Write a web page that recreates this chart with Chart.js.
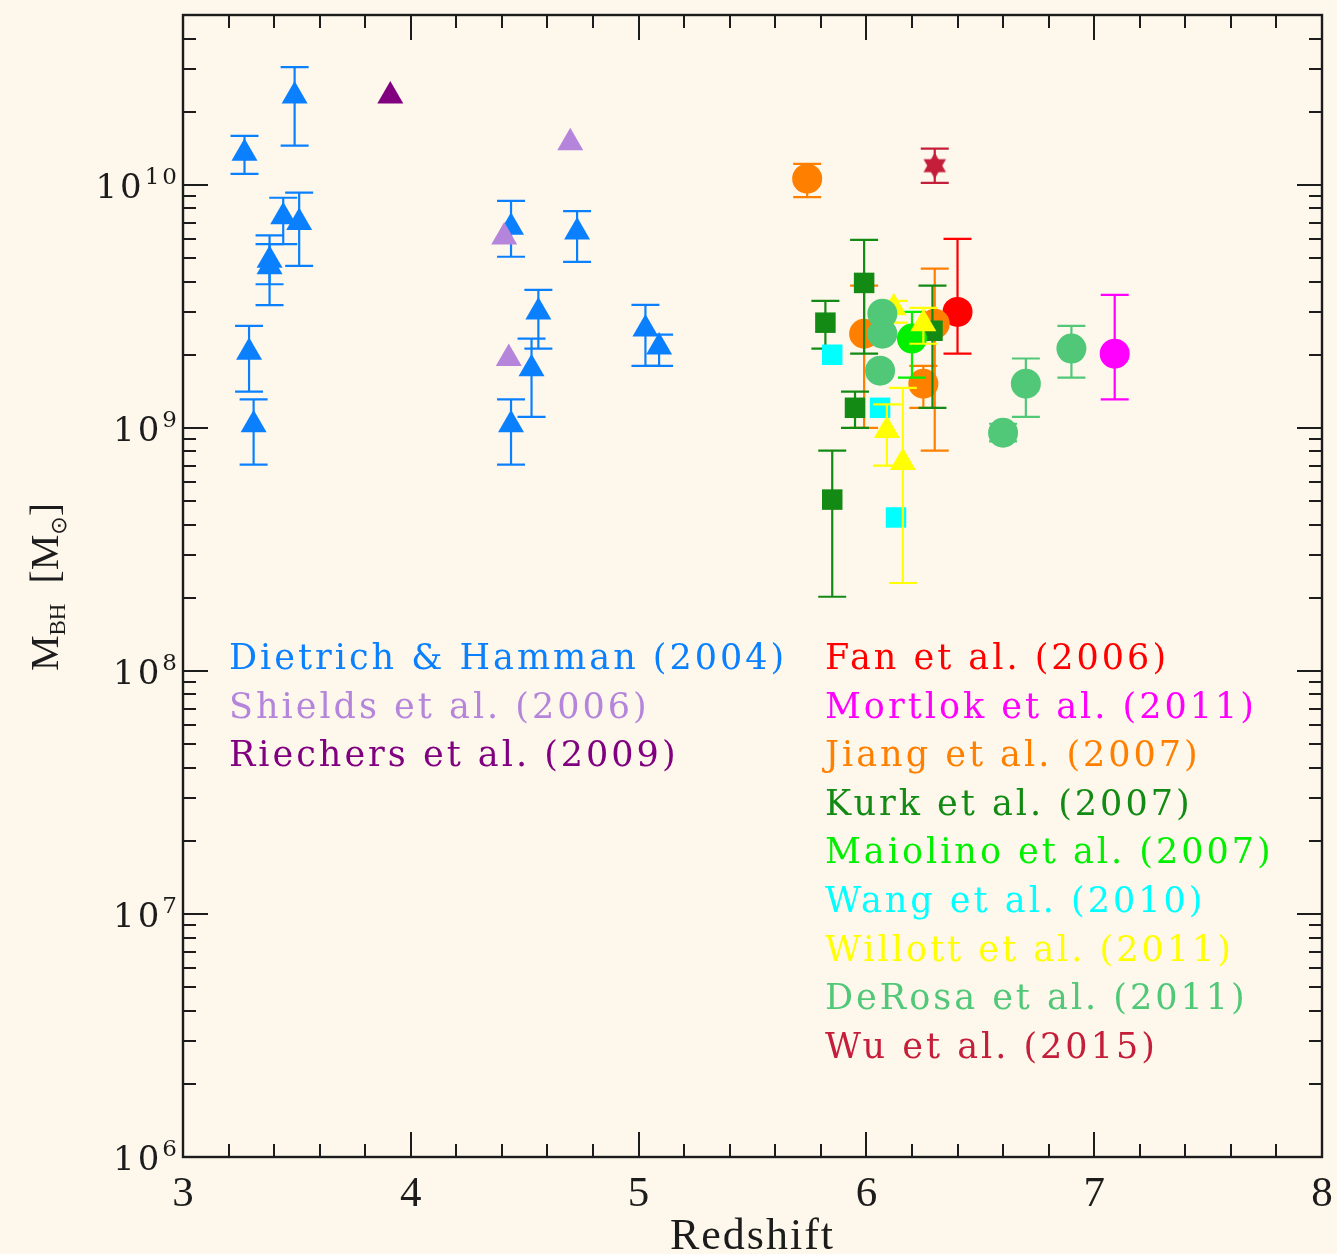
<!DOCTYPE html>
<html>
<head>
<meta charset="utf-8">
<script src="https://cdn.jsdelivr.net/npm/chart.js@4.4.0/dist/chart.umd.min.js"></script>
<style>
  html, body { margin: 0; padding: 0; background: #fef8ec; overflow: hidden; }
  canvas { display: block; }
</style>
</head>
<body>
<canvas id="graficoMassa" width="1337" height="1254"></canvas>
<script>
// Dietrich & Hamman (2004)
const dietrichZ  = [3.27, 3.49, 3.44, 3.51, 3.38, 3.38, 3.29, 3.31, 4.44, 4.73, 4.56, 4.53, 4.44, 5.03, 5.09];
const dietrichM  = [1.35e10, 2.32e10, 7.4e9, 7.0e9, 4.9e9, 4.6e9, 2.05e9, 1.03e9, 6.7e9, 6.4e9, 3.0e9, 1.75e9, 1.03e9, 2.55e9, 2.15e9];
const dietrichHi = [1.59e10, 3.05e10, 8.85e9, 9.3e9, 6.2e9, 5.7e9, 2.63e9, 1.31e9, 8.6e9, 7.8e9, 3.7e9, 2.33e9, 1.31e9, 3.21e9, 2.42e9];
const dietrichLo = [1.11e10, 1.45e10, 5.7e9, 4.64e9, 3.9e9, 3.2e9, 1.41e9, 7.06e8, 5.06e9, 4.82e9, 2.12e9, 1.11e9, 7.06e8, 1.8e9, 1.8e9];

// Shields et al. (2006)
const shieldsZ = [4.70, 4.41, 4.43];
const shieldsM = [1.49e10, 6.1e9, 1.93e9];

// Riechers et al. (2009)
const riechersZ = [3.91];
const riechersM = [2.32e10];

// Fan et al. (2006)
const fanZ  = [6.40];
const fanM  = [3.0e9];
const fanHi = [6.0e9];
const fanLo = [2.02e9];

// Mortlock et al. (2011)
const mortlockZ  = [7.09];
const mortlockM  = [2.02e9];
const mortlockHi = [3.53e9];
const mortlockLo = [1.31e9];

// Jiang et al. (2007)
const jiangZ  = [5.74, 5.99, 6.30, 6.25];
const jiangM  = [1.06e10, 2.44e9, 2.68e9, 1.52e9];
const jiangHi = [1.22e10, 3.85e9, 4.52e9, 1.8e9];
const jiangLo = [8.9e9, 1.0e9, 8.06e8, 1.21e9];

// Kurk et al. (2007)
const kurkZ  = [5.82, 5.99, 5.95, 5.85, 6.29];
const kurkM  = [2.71e9, 3.95e9, 1.21e9, 5.07e8, 2.51e9];
const kurkHi = [3.33e9, 5.94e9, 1.41e9, 8.06e8, 3.85e9];
const kurkLo = [2.12e9, 2.02e9, 1.0e9, 2.02e8, 1.21e9];

// Maiolino et al. (2007)
const maiolinoZ  = [6.20];
const maiolinoM  = [2.33e9];
const maiolinoHi = [3.0e9];
const maiolinoLo = [1.61e9];

// Wang et al. (2010)
const wangZ = [5.85, 6.06, 6.13];
const wangM = [2.0e9, 1.21e9, 4.28e8];

// Willott et al. (2011)
const willottZ  = [6.12, 6.25, 6.09, 6.16];
const willottM  = [3.12e9, 2.68e9, 9.75e8, 7.2e8];
const willottHi = [3.33e9, 3.12e9, 1.25e9, 1.46e9];
const willottLo = [2.71e9, 2.22e9, 7.0e8, 2.3e8];

// De Rosa et al. (2011)
const derosaZ  = [6.07, 6.07, 6.06, 6.60, 6.70, 6.90];
const derosaM  = [2.95e9, 2.44e9, 1.72e9, 9.55e8, 1.52e9, 2.12e9];
const derosaHi = [null, null, null, 1.04e9, 1.93e9, 2.63e9];
const derosaLo = [null, null, null, 8.8e8, 1.11e9, 1.61e9];

// Wu et al. (2015)
const wuZ  = [6.30];
const wuM  = [1.2e10];
const wuHi = [1.41e10];
const wuLo = [1.02e10];

// axes
const xTicks = [3, 4, 5, 6, 7, 8];
const yDecades = [6, 7, 8, 9, 10];
const xRange = [3, 8];
const yRange = [1e6, 5e10];

const BG = '#fef8ec';
const INK = '#1c1c1c';

// filled six-pointed star for the Wu point
function sixPointStar(color, r) {
  const c = document.createElement('canvas');
  const s = Math.ceil(r * 2 + 2);
  c.width = s; c.height = s;
  const g = c.getContext('2d');
  g.fillStyle = color;
  const cx = s / 2, cy = s / 2;
  [-Math.PI / 2, Math.PI / 2].forEach(a0 => {
    g.beginPath();
    for (let k = 0; k < 3; k++) {
      const a = a0 + k * 2 * Math.PI / 3;
      g.lineTo(cx + r * Math.cos(a), cy + r * Math.sin(a));
    }
    g.closePath();
    g.fill();
  });
  return c;
}

function makeSet(label, color, style, z, m, hi, lo, radius) {
  return {
    label: label,
    data: z.map((v, i) => ({ x: v, y: m[i] })),
    errHi: hi || null,
    errLo: lo || null,
    backgroundColor: color,
    borderColor: color,
    pointStyle: style,
    pointRadius: radius,
    pointBorderWidth: 0,
    pointHoverRadius: radius
  };
}

const datasets = [
  makeSet('Dietrich & Hamman (2004)', '#0a80ff', 'triangle', dietrichZ, dietrichM, dietrichHi, dietrichLo, 15),
  makeSet('Shields et al. (2006)', '#b585db', 'triangle', shieldsZ, shieldsM, null, null, 15),
  makeSet('Riechers et al. (2009)', '#800080', 'triangle', riechersZ, riechersM, null, null, 15),
  makeSet('Fan et al. (2006)', '#ff0000', 'circle', fanZ, fanM, fanHi, fanLo, 15),
  makeSet('Mortlok et al. (2011)', '#ff00ff', 'circle', mortlockZ, mortlockM, mortlockHi, mortlockLo, 15),
  makeSet('Jiang et al. (2007)', '#ff8000', 'circle', jiangZ, jiangM, jiangHi, jiangLo, 15),
  makeSet('Kurk et al. (2007)', '#138a13', 'rect', kurkZ, kurkM, kurkHi, kurkLo, 14.5),
  makeSet('Maiolino et al. (2007)', '#00f000', 'circle', maiolinoZ, maiolinoM, maiolinoHi, maiolinoLo, 15),
  makeSet('Wang et al. (2010)', '#00ffff', 'rect', wangZ, wangM, null, null, 14.5),
  makeSet('Willott et al. (2011)', '#ffff00', 'triangle', willottZ, willottM, willottHi, willottLo, 15),
  makeSet('DeRosa et al. (2011)', '#50c878', 'circle', derosaZ, derosaM, derosaHi, derosaLo, 15),
  makeSet('Wu et al. (2015)', '#c41e3a', sixPointStar('#c41e3a', 13), wuZ, wuM, wuHi, wuLo, 14)
];
// later surveys sit on top
datasets.forEach((d, i) => { d.order = datasets.length - i; });

const framePlugin = {
  id: 'frame',
  beforeDraw(chart) {
    const ctx = chart.ctx;
    ctx.save();
    ctx.fillStyle = BG;
    ctx.fillRect(0, 0, chart.width, chart.height);
    ctx.restore();
  },
  // error bars go right under each set's own markers
  beforeDatasetDraw(chart, args) {
    const ds = chart.data.datasets[args.index];
    if (!ds.errHi) return;
    const xs = chart.scales.x, ys = chart.scales.y, ctx = chart.ctx;
    ctx.save();
    ctx.strokeStyle = ds.borderColor;
    ctx.lineWidth = 2.2;
    ds.data.forEach((p, i) => {
      if (ds.errHi[i] == null) return;
      const x = xs.getPixelForValue(p.x);
      const y1 = ys.getPixelForValue(ds.errHi[i]);
      const y2 = ys.getPixelForValue(ds.errLo[i]);
      ctx.beginPath();
      ctx.moveTo(x, y1); ctx.lineTo(x, y2);
      ctx.moveTo(x - 14, y1); ctx.lineTo(x + 14, y1);
      ctx.moveTo(x - 14, y2); ctx.lineTo(x + 14, y2);
      ctx.stroke();
    });
    ctx.restore();
  },
  afterDraw(chart) {
    const ctx = chart.ctx, a = chart.chartArea;
    const xs = chart.scales.x, ys = chart.scales.y;
    ctx.save();
    ctx.strokeStyle = INK;
    ctx.lineWidth = 2.4;
    ctx.strokeRect(a.left, a.top, a.right - a.left, a.bottom - a.top);

    // inward ticks on all four sides
    ctx.lineWidth = 2;
    ctx.beginPath();
    for (let v = xRange[0]; v <= xRange[1] + 1e-9; v += 0.2) {
      const x = Math.round(xs.getPixelForValue(v));
      const len = Math.abs(v - Math.round(v)) < 1e-6 ? 25 : 13;
      ctx.moveTo(x, a.bottom); ctx.lineTo(x, a.bottom - len);
      ctx.moveTo(x, a.top); ctx.lineTo(x, a.top + len);
    }
    for (let e = 6; e <= 10; e++) {
      for (let k = 1; k <= 9; k++) {
        const v = k * Math.pow(10, e);
        if (v > yRange[1]) break;
        const y = Math.round(ys.getPixelForValue(v));
        const len = k === 1 ? 25 : 13;
        ctx.moveTo(a.left, y); ctx.lineTo(a.left + len, y);
        ctx.moveTo(a.right, y); ctx.lineTo(a.right - len, y);
      }
    }
    ctx.stroke();

    // x tick labels
    ctx.fillStyle = INK;
    ctx.font = '43px "Liberation Serif"';
    ctx.textAlign = 'center';
    ctx.textBaseline = 'alphabetic';
    xTicks.forEach(v => ctx.fillText(String(v), xs.getPixelForValue(v), 1206));

    // y tick labels as 10^n
    ctx.letterSpacing = '3px';
    yDecades.forEach(e => {
      const y = ys.getPixelForValue(Math.pow(10, e));
      ctx.font = '34px "DejaVu Serif"';
      const wb = ctx.measureText('10').width;
      ctx.font = '23px "DejaVu Serif"';
      const we = ctx.measureText(String(e)).width;
      const right = 180;
      ctx.textAlign = 'left';
      ctx.font = '34px "DejaVu Serif"';
      ctx.fillText('10', right - we - wb, y + 13);
      ctx.font = '23px "DejaVu Serif"';
      ctx.fillText(String(e), right - we, y - 1);
    });
    ctx.letterSpacing = '0px';

    // axis titles
    ctx.font = '44px "Liberation Serif"';
    ctx.letterSpacing = '2px';
    ctx.textAlign = 'center';
    ctx.fillText('Redshift', (a.left + a.right) / 2, 1249);
    ctx.letterSpacing = '0px';

    ctx.save();
    ctx.translate(58, 587);
    ctx.rotate(-Math.PI / 2);
    const parts = [
      ['M', '40px "Liberation Serif"', 0],
      ['BH', '23px "Liberation Serif"', 7],
      ['  [M', '40px "Liberation Serif"', 0],
      ['\u2299', '22px "DejaVu Sans"', 8],
      [']', '40px "Liberation Serif"', 0]
    ];
    let total = 0;
    parts.forEach(p => { ctx.font = p[1]; total += ctx.measureText(p[0]).width; });
    let px = -total / 2;
    ctx.textAlign = 'left';
    parts.forEach(p => {
      ctx.font = p[1];
      ctx.fillText(p[0], px, p[2]);
      px += ctx.measureText(p[0]).width;
    });
    ctx.restore();

    // legend: coloured labels in two columns
    ctx.font = '35px "DejaVu Serif"';
    ctx.letterSpacing = '3px';
    ctx.textAlign = 'left';
    ctx.textBaseline = 'middle';
    chart.data.datasets.forEach((ds, i) => {
      const left = i < 3;
      const row = left ? i : i - 3;
      ctx.fillStyle = ds.backgroundColor;
      ctx.fillText(ds.label, left ? 229 : 825, 660 + row * 48.6);
    });
    ctx.restore();
  }
};

new Chart(document.getElementById('graficoMassa').getContext('2d'), {
  type: 'scatter',
  data: { datasets: datasets },
  options: {
    responsive: false,
    animation: false,
    layout: { padding: { left: 183, right: 10, top: 13, bottom: 97 } },
    scales: {
      x: { type: 'linear', min: xRange[0], max: xRange[1], display: false },
      y: { type: 'logarithmic', min: yRange[0], max: yRange[1], display: false }
    },
    plugins: {
      legend: { display: false },
      tooltip: { enabled: false }
    }
  },
  plugins: [framePlugin]
});
</script>
</body>
</html>
